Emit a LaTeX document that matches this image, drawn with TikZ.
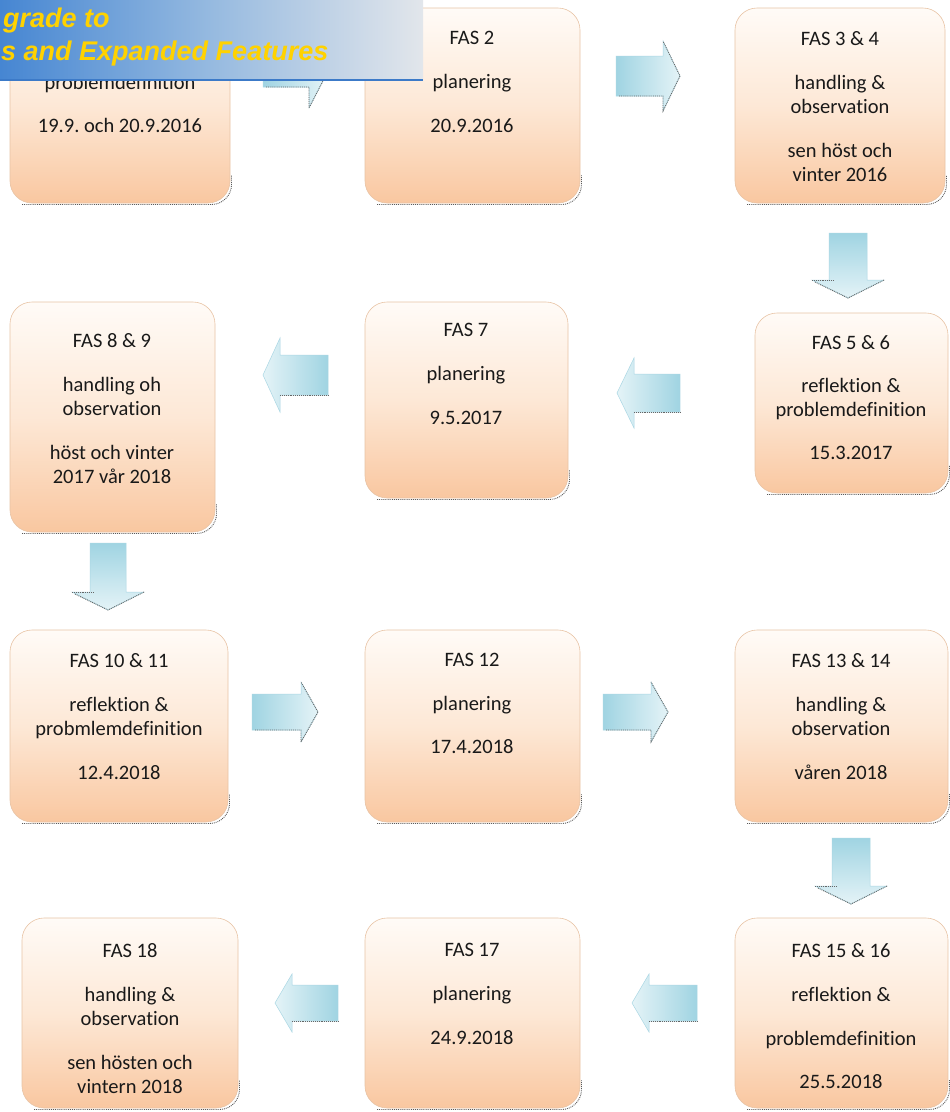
\documentclass[tikz,border=0pt]{standalone}
\usepackage{fontspec}
\setmainfont{Carlito}[Ligatures=NoCommon]
\newfontfamily\bannerfont{Liberation Sans}
\usetikzlibrary{calc}
\frenchspacing
\definecolor{peachtop}{RGB}{255,251,247}
\definecolor{peachmid}{RGB}{253,232,214}
\definecolor{peachbot}{RGB}{249,199,160}
\definecolor{boxline}{RGB}{232,196,166}
\definecolor{arrdark}{RGB}{160,212,226}
\definecolor{arrlight}{RGB}{228,243,247}
\definecolor{arrline}{RGB}{170,215,228}
\definecolor{bannerleft}{RGB}{70,134,210}
\definecolor{bannermid}{RGB}{150,186,224}
\definecolor{bannerright}{RGB}{226,230,235}
\definecolor{bannerline}{RGB}{60,122,200}
\definecolor{bannertext}{RGB}{255,210,0}
\tikzset{
  fasbox/.style={shape=rectangle, rounded corners=22pt, draw=boxline, line width=0.6pt,
    top color=peachtop, bottom color=peachbot, middle color=peachmid, inner sep=0pt, outer sep=0pt},
  fastext/.style={align=center, inner sep=0pt, anchor=north, text=black!90,
    font=\fontsize{20.5}{24}\selectfont},
  shadowline/.style={densely dotted, line width=0.9pt, black!65},
  arrowshape/.style={draw=arrline, line width=0.5pt},
  arrowdots/.style={densely dotted, line width=0.9pt, black!60},
  bannertxt/.style={anchor=base west, inner sep=0pt, text=bannertext,
    font=\bannerfont\bfseries\itshape\fontsize{27}{30}\selectfont},
}
% box: name, x1, y1, x2, y2
\newcommand{\FasBox}[5]{%
  \node[fasbox, minimum width={(#4-#2)*1pt}, minimum height={(#5-#3)*1pt}] (#1) at ({(#2+#4)/2},{(#3+#5)/2}) {};
  \draw[shadowline, rounded corners=20pt] ($(#1.south west)+(12,1.5)$) -- ($(#1.south east)+(1.5,1.5)$) -- ($(#1.south east)+(1.5,-28)$);
}
% right arrow: x0, x1, yc, shaft half, head half
\newcommand{\RArr}[5]{%
  \shade[arrowshape, left color=arrdark, right color=arrlight]
    (#1,#3-#4) -- (#2-17,#3-#4) -- (#2-17,#3-#5) -- (#2,#3) -- (#2-17,#3+#5) -- (#2-17,#3+#4) -- (#1,#3+#4) -- cycle;
  \draw[arrowdots] (#1+3,#3+#4) -- (#2-17,#3+#4) -- (#2-17,#3+#5) -- (#2,#3) -- (#2-17,#3-#5);
}
% left arrow: tip x, end x, yc, shaft half, head half
\newcommand{\LArr}[5]{%
  \shade[arrowshape, left color=arrlight, right color=arrdark]
    (#2,#3-#4) -- (#1+17,#3-#4) -- (#1+17,#3-#5) -- (#1,#3) -- (#1+17,#3+#5) -- (#1+17,#3+#4) -- (#2,#3+#4) -- cycle;
  \draw[arrowdots] (#1+17,#3+#4) -- (#2,#3+#4);
}
% down arrow: xc, y0, y1 (tip), shaft half, head half
\newcommand{\DArr}[5]{%
  \shade[arrowshape, top color=arrdark, bottom color=arrlight]
    (#1-#4,#2) -- (#1+#4,#2) -- (#1+#4,#3-18) -- (#1+#5,#3-18) -- (#1,#3) -- (#1-#5,#3-18) -- (#1-#4,#3-18) -- cycle;
  \draw[arrowdots] (#1-#5,#3-18) -- (#1-#4+4,#3-18);
  \draw[arrowdots] (#1-#5+3,#3-16) -- (#1,#3) -- (#1+#5,#3-18);
}
\begin{document}
\begin{tikzpicture}[x=1pt,y=-1pt]
\useasboundingbox (0,0) rectangle (950,1112);
\fill[white] (0,0) rectangle (950,1112);

% ---- boxes ----
\FasBox{b1}{10}{8}{230}{203}
\FasBox{b2}{365}{8}{580}{203}
\FasBox{b3}{735}{8}{945}{203}
\FasBox{b89}{10}{302}{215}{532}
\FasBox{b7}{365}{302}{568}{498}
\FasBox{b56}{755}{313}{948}{493}
\FasBox{b1011}{10}{630}{228}{822}
\FasBox{b12}{365}{630}{580}{822}
\FasBox{b1314}{735}{630}{948}{822}
\FasBox{b18}{22}{918}{238}{1108}
\FasBox{b17}{365}{918}{580}{1108}
\FasBox{b1516}{735}{918}{948}{1108}

% ---- texts ----
\node[fastext] (t1) at (120,75) {problemdefinition\\[19pt] 19.9. och 20.9.2016};
\node[fastext] (t2) at (472,31) {FAS 2\\[20pt] planering\\[20pt] 20.9.2016};
\node[fastext] (t3) at (840,31) {FAS 3 \& 4\\[20pt] handling \&\\ observation\\[20pt] sen höst och\\ vinter 2016};
\node[fastext] (t89) at (112,333) {FAS 8 \& 9\\[20pt] handling oh\\ observation\\[20pt] höst och vinter\\ 2017 vår 2018};
\node[fastext] (t7) at (466,323) {FAS 7\\[20pt] planering\\[20pt] 9.5.2017};
\node[fastext] (t56) at (851,335) {FAS 5 \& 6\\[19pt] reflektion \&\\ problemdefinition\\[19pt] 15.3.2017};
\node[fastext] (t1011) at (119,653) {FAS 10 \& 11\\[20pt] reflektion \&\\ probmlemdefinition\\[20pt] 12.4.2018};
\node[fastext] (t12) at (472,653) {FAS 12\\[20pt] planering\\[19pt] 17.4.2018};
\node[fastext] (t1314) at (841,653) {FAS 13 \& 14\\[20pt] handling \&\\ observation\\[20pt] våren 2018};
\node[fastext] (t18) at (130,943) {FAS 18\\[20pt] handling \&\\ observation\\[20pt] sen hösten och\\ vintern 2018};
\node[fastext] (t17) at (472,943) {FAS 17\\[20pt] planering\\[20pt] 24.9.2018};
\node[fastext] (t1516) at (841,943) {FAS 15 \& 16\\[20pt] reflektion \&\\[20pt] problemdefinition\\[19pt] 25.5.2018};

% ---- block arrows ----
\RArr{263}{326}{75}{12}{33}
\RArr{616}{680}{76}{20}{35}
\DArr{848}{233}{298}{19}{36}
\LArr{617}{680}{393}{19}{35}
\LArr{263}{328}{375}{20}{37}
\DArr{108}{543}{610}{18}{36}
\RArr{252}{318}{712}{18}{30}
\RArr{603}{668}{712}{18}{30}
\DArr{851}{838}{904}{19}{36}
\LArr{632}{697}{1003}{18}{29}
\LArr{275}{338}{1003}{18}{29}

% ---- banner ----
\shade[left color=bannerleft, right color=bannerright, middle color=bannermid] (0,0) rectangle (423,80);
\draw[bannerline, line width=2pt] (0,80) -- (423,80);
\node[bannertxt] (ban1) at (3,27) {grade to};
\node[bannertxt] (ban2) at (1,60) {s and Expanded Features};
\end{tikzpicture}
\end{document}
